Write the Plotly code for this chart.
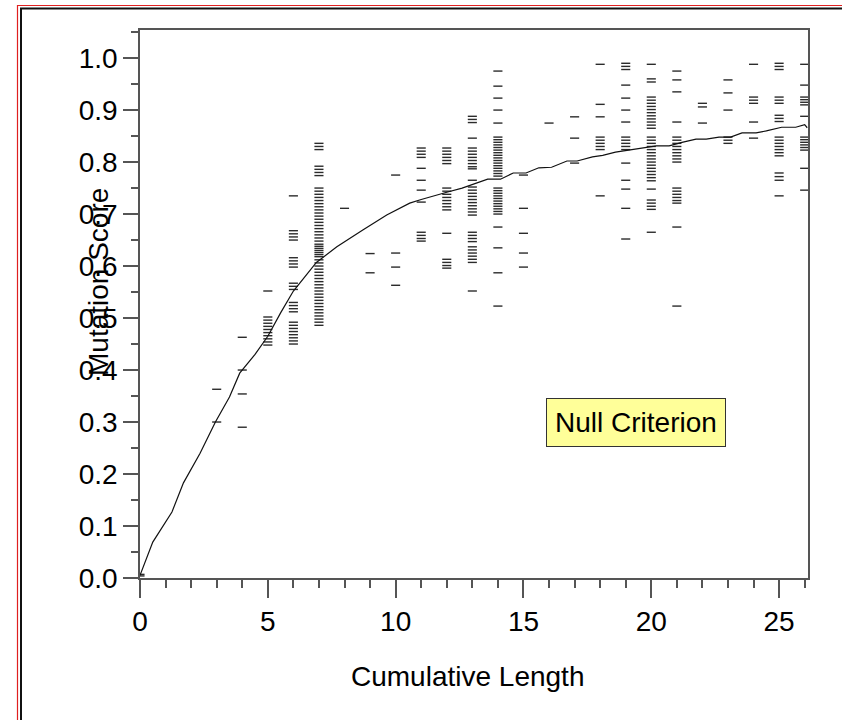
import plotly.graph_objects as go

# Mutation scores recorded for each cumulative test length
s00 = [0.004, 0.007]
s03 = [0.363, 0.300]
s04 = [0.463, 0.400, 0.354, 0.290]
s05 = [0.552, 0.502, 0.496, 0.490, 0.484, 0.478, 0.472, 0.466, 0.460, 0.454, 0.448]
s06 = [0.735, 0.668, 0.662, 0.656, 0.650, 0.616, 0.610, 0.604, 0.598, 0.567,
       0.561, 0.555, 0.530, 0.524, 0.518, 0.512, 0.492, 0.486, 0.480, 0.474,
       0.468, 0.462, 0.456, 0.450]
s07 = [0.836, 0.830, 0.824, 0.792, 0.786, 0.780, 0.774, 0.750, 0.744, 0.738,
       0.732, 0.726, 0.720, 0.714, 0.708, 0.702, 0.696, 0.690, 0.684, 0.678,
       0.672, 0.666, 0.660, 0.654, 0.648, 0.642, 0.638, 0.634, 0.630, 0.626,
       0.622, 0.618, 0.612, 0.606, 0.600, 0.594, 0.588, 0.582, 0.576, 0.570,
       0.564, 0.558, 0.552, 0.546, 0.540, 0.534, 0.528, 0.522, 0.516, 0.510,
       0.504, 0.498, 0.492, 0.486]
s08 = [0.711]
s09 = [0.624, 0.587]
s10 = [0.775, 0.625, 0.598, 0.563]
s11 = [0.827, 0.821, 0.815, 0.809, 0.788, 0.765, 0.746, 0.723, 0.665, 0.659,
       0.653, 0.648]
s12 = [0.827, 0.821, 0.815, 0.809, 0.803, 0.797, 0.750, 0.744, 0.738, 0.732,
       0.726, 0.720, 0.714, 0.708, 0.663, 0.613, 0.607, 0.601, 0.596]
s13 = [0.888, 0.882, 0.876, 0.846, 0.827, 0.821, 0.815, 0.809, 0.803, 0.797,
       0.791, 0.787, 0.765, 0.752, 0.746, 0.740, 0.734, 0.728, 0.722, 0.716,
       0.710, 0.704, 0.698, 0.665, 0.659, 0.653, 0.647, 0.637, 0.631, 0.625,
       0.619, 0.613, 0.607, 0.552]
s14 = [0.975, 0.946, 0.923, 0.900, 0.875, 0.848, 0.843, 0.838, 0.833, 0.828,
       0.823, 0.818, 0.813, 0.808, 0.803, 0.798, 0.793, 0.788, 0.783, 0.778,
       0.773, 0.750, 0.745, 0.740, 0.735, 0.730, 0.725, 0.720, 0.715, 0.710,
       0.705, 0.700, 0.675, 0.635, 0.587, 0.523]
s15 = [0.775, 0.711, 0.663, 0.625, 0.598]
s16 = [0.875]
s17 = [0.887, 0.846, 0.798]
s18 = [0.988, 0.911, 0.887, 0.848, 0.842, 0.836, 0.830, 0.824, 0.735]
s19 = [0.990, 0.984, 0.978, 0.948, 0.923, 0.900, 0.877, 0.848, 0.842, 0.836,
       0.830, 0.824, 0.798, 0.765, 0.748, 0.711, 0.652]
s20 = [0.988, 0.960, 0.954, 0.925, 0.919, 0.913, 0.907, 0.901, 0.895, 0.889,
       0.883, 0.877, 0.871, 0.865, 0.848, 0.842, 0.836, 0.830, 0.824, 0.818,
       0.812, 0.806, 0.800, 0.794, 0.788, 0.782, 0.776, 0.770, 0.764, 0.748,
       0.727, 0.721, 0.715, 0.709, 0.665]
s21 = [0.975, 0.958, 0.935, 0.877, 0.848, 0.842, 0.836, 0.830, 0.824, 0.818,
       0.812, 0.806, 0.800, 0.750, 0.744, 0.738, 0.732, 0.726, 0.721, 0.675,
       0.523]
s22 = [0.913, 0.906, 0.875]
s23 = [0.958, 0.933, 0.900, 0.848, 0.842, 0.836]
s24 = [0.988, 0.925, 0.919, 0.913, 0.877, 0.846]
s25 = [0.990, 0.984, 0.978, 0.925, 0.919, 0.913, 0.890, 0.884, 0.878, 0.848,
       0.842, 0.836, 0.830, 0.824, 0.818, 0.812, 0.779, 0.772, 0.765, 0.735]
s26 = [0.988, 0.948, 0.925, 0.920, 0.915, 0.910, 0.888, 0.848, 0.843, 0.838,
       0.833, 0.828, 0.823, 0.788, 0.746]

lengths = [0, 3, 4, 5, 6, 7, 8, 9, 10, 11, 12, 13, 14, 15, 16, 17, 18, 19,
           20, 21, 22, 23, 24, 25, 26]
score_columns = [s00, s03, s04, s05, s06, s07, s08, s09, s10, s11, s12, s13,
                 s14, s15, s16, s17, s18, s19, s20, s21, s22, s23, s24, s25,
                 s26]

# Mean mutation score curve
curve_x = [0, 0.5, 1.25, 1.7, 2.35, 2.95, 3.5, 3.9, 4.5, 5.0, 5.5, 6.0, 6.9,
           7.7, 8.7, 9.65, 10.55, 11.0, 12.0, 12.6, 13.6, 14.1, 14.6, 15.1,
           15.6, 16.1, 16.7, 17.1, 17.7, 18.1, 18.6, 19.1, 19.65, 20.2, 20.7,
           21.2, 21.75, 22.15, 22.65, 23.1, 23.55, 24.1, 24.5, 25.1, 25.65,
           26.0, 26.1]
curve_y = [0.005, 0.069, 0.127, 0.183, 0.240, 0.300, 0.348, 0.394, 0.430,
           0.465, 0.510, 0.552, 0.607, 0.637, 0.669, 0.698, 0.721, 0.728,
           0.742, 0.750, 0.767, 0.767, 0.779, 0.779, 0.789, 0.790, 0.802,
           0.802, 0.810, 0.813, 0.819, 0.823, 0.827, 0.831, 0.831, 0.838,
           0.844, 0.844, 0.848, 0.848, 0.856, 0.856, 0.860, 0.867, 0.867,
           0.872, 0.866]

x_ticks = [0, 5, 10, 15, 20, 25]
y_ticks = [0.0, 0.1, 0.2, 0.3, 0.4, 0.5, 0.6, 0.7, 0.8, 0.9, 1.0]

FONT = "Liberation Sans, Arial, sans-serif"

pts_x, pts_y = [], []
for length, col in zip(lengths, score_columns):
    pts_x.extend([length] * len(col))
    pts_y.extend(col)

fig = go.Figure()
# each observation is a short horizontal dash
fig.add_trace(go.Scatter(
    x=pts_x, y=pts_y, mode="markers",
    marker=dict(symbol="line-ew", size=6.5,
                line=dict(color="#2b2b2b", width=1.4)),
    hoverinfo="x+y", showlegend=False,
))
fig.add_trace(go.Scatter(
    x=curve_x, y=curve_y, mode="lines",
    line=dict(color="#111111", width=1.2),
    showlegend=False,
))

axis_common = dict(
    showgrid=False, zeroline=False, showline=True, mirror=True,
    linecolor="#555555", linewidth=1.5, ticks="outside", tickcolor="#555555",
    tickwidth=1.5, tickfont=dict(family=FONT, size=28, color="#000000"),
)

fig.update_xaxes(
    range=[0, 26.13], tickvals=x_ticks, ticktext=[str(v) for v in x_ticks],
    ticklen=18, minor=dict(dtick=1, tick0=0, ticklen=8, ticks="outside",
                           tickcolor="#555555", tickwidth=1.5),
    **axis_common,
)
fig.update_yaxes(
    range=[0, 1.054], tickvals=y_ticks,
    ticktext=[f"{v:.1f}" for v in y_ticks], ticklen=15,
    minor=dict(dtick=0.05, tick0=0, ticklen=7, ticks="outside",
               tickcolor="#555555", tickwidth=1.5),
    **axis_common,
)

W, H = 842, 720
L, R, T, B = 140, 34, 30, 142
pw, ph = W - L - R, H - T - B


def px_x(p):
    return (p - L) / pw


def px_y(p):
    return (H - B - p) / ph


fig.update_layout(
    width=W, height=H,
    margin=dict(l=L, r=R, t=T, b=B, pad=0),
    paper_bgcolor="white", plot_bgcolor="white",
    annotations=[
        dict(text="Mutation Score", textangle=-90, xref="paper", yref="paper",
             x=px_x(98), y=px_y(282), xanchor="center", yanchor="middle",
             showarrow=False, font=dict(family=FONT, size=28, color="#000")),
        dict(text="Cumulative Length", xref="paper", yref="paper",
             x=px_x(467), y=px_y(676), xanchor="center", yanchor="middle",
             showarrow=False, font=dict(family=FONT, size=28, color="#000")),
        dict(text="Null Criterion", xref="paper", yref="paper",
             x=px_x(636), y=px_y(422.5), xanchor="center", yanchor="middle",
             showarrow=False, bgcolor="#ffff99", bordercolor="#333333",
             borderwidth=1, borderpad=8,
             font=dict(family=FONT, size=28, color="#000")),
    ],
    shapes=[
        dict(type="rect", xref="paper", yref="paper",
             x0=px_x(17.5), y0=px_y(760), x1=px_x(880), y1=px_y(5.5),
             line=dict(color="#e02020", width=1.2), layer="above"),
        dict(type="rect", xref="paper", yref="paper",
             x0=px_x(21), y0=px_y(760), x1=px_x(880), y1=px_y(8.5),
             line=dict(color="#111111", width=2), layer="above"),
    ],
)

fig.write_html("out.html")
